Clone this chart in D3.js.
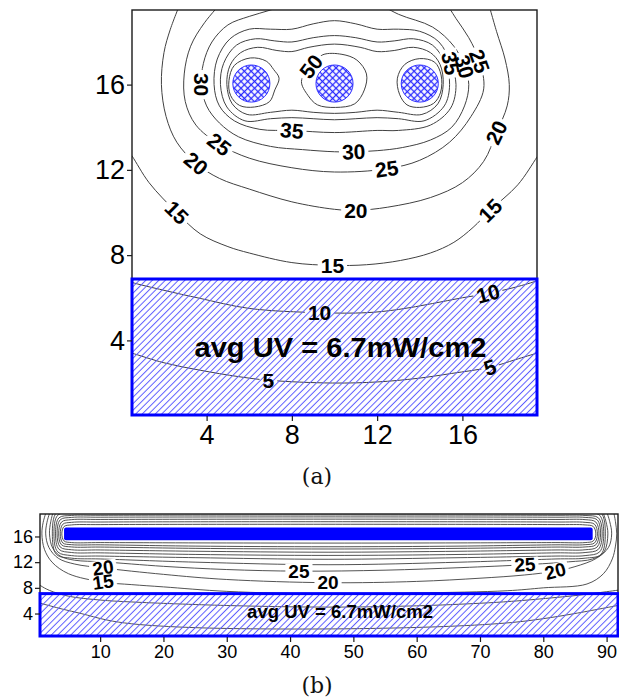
<!DOCTYPE html>
<html>
<head>
<meta charset="utf-8">
<script src="https://cdn.jsdelivr.net/npm/d3@7"></script>
<style>
  body { margin: 0; background: #fff; }
  svg { font-family: "Liberation Sans", Arial, sans-serif; }
</style>
</head>
<body>
<svg id="fig" width="619" height="698"></svg>
<script>
// ---------- panel (a): three round lamps, 19 x 19 box ----------
const aLamps = [[6.1, 16.05], [10, 16.05], [14, 16.05]];
const aLampRadius = 0.87;
const aTarget = [0.5, 0.5, 19.5, 6.88];          // x0, y0, x1, y1 of hatched zone
const aXTicks = [4, 8, 12, 16];
const aYTicks = [4, 8, 12, 16];

// contour lines, points in plot units
const a50Left = [[5.05,16.2],[5.3,16.9],[6.05,17.25],[6.8,17.1],[7.15,16.7],[7.4,16.3],[7.2,15.75],[6.95,15.2],[6.25,14.95],[5.55,15.02],[5.12,15.5]];
const a50Mid = [[8.45,16.15],[8.85,16.85],[9.45,17.4],[10.35,17.42],[11.05,17.15],[11.5,16.5],[11.4,15.75],[10.95,15.1],[10.05,14.93],[9.2,15.05],[8.75,15.5]];
const a50Right = [[12.95,16.3],[13.3,16.95],[14.0,17.22],[14.7,17.05],[15.0,16.45],[14.98,15.65],[14.65,15.12],[14.0,14.93],[13.4,15.05],[13.05,15.55]];
const a45 = [[4.95,16.0],[5.1,16.9],[5.6,17.5],[6.4,17.75],[7.3,17.6],[8.0,17.55],[8.8,17.75],[10.0,17.9],[11.2,17.75],[12.0,17.55],[12.8,17.6],[13.7,17.75],[14.5,17.5],[14.95,16.95],[15.1,16.0],[14.85,15.1],[14.1,14.6],[13.0,14.7],[12.0,14.8],[11.0,14.7],[10.0,14.65],[9.0,14.7],[8.0,14.8],[7.0,14.7],[5.9,14.6],[5.2,15.1]];
const a40 = [[4.65,16.0],[4.8,17.0],[5.4,17.85],[6.3,18.15],[7.2,18.05],[8.0,18.0],[9.0,18.2],[10.0,18.3],[11.0,18.2],[12.0,18.0],[12.8,18.05],[13.7,18.15],[14.6,17.85],[15.2,17.0],[15.4,16.0],[15.15,15.0],[14.2,14.3],[13.0,14.4],[12.0,14.45],[11.0,14.4],[10.0,14.35],[9.0,14.4],[8.0,14.45],[7.0,14.4],[5.8,14.3],[4.95,14.95]];
const a35 = [[4.35,16.0],[4.5,17.2],[5.1,18.15],[6.0,18.6],[7.0,18.6],[8.0,18.6],[9.0,18.85],[10.0,19.0],[11.0,18.85],[12.0,18.6],[13.0,18.6],[14.0,18.5],[14.9,18.0],[15.45,17.0],[15.7,16.0],[15.45,14.9],[14.5,14.1],[13.0,13.85],[12.0,13.85],[10.0,13.75],[8.0,13.85],[6.5,13.9],[5.3,14.3],[4.6,15.0]];
const a30 = [[8.1,19.9],[7.0,19.5],[6.0,19.2],[5.0,18.8],[4.25,18.0],[3.85,17.0],[3.76,16.0],[4.0,15.0],[4.6,14.2],[5.5,13.55],[7.0,13.1],[8.5,12.95],[10.0,12.85],[10.9,12.85],[12.0,12.9],[13.2,13.05],[14.5,13.4],[15.5,14.0],[16.1,15.0],[16.3,16.0],[16.1,16.85],[15.6,17.8],[14.6,18.7],[13.0,19.3],[11.9,19.9]];
const a25 = [[4.75,19.9],[3.9,18.9],[3.25,17.8],[2.95,16.5],[3.0,15.2],[3.5,14.1],[4.6,13.2],[6.0,12.55],[8.0,12.1],[10.0,11.9],[12.45,12.05],[14.0,12.45],[15.4,13.3],[16.4,14.5],[17.0,15.8],[16.8,17.1],[16.3,18.2],[15.7,19.1],[15.2,19.9]];
const a20 = [[2.8,19.9],[2.3,18.6],[2.0,17.5],[1.88,16.0],[2.1,14.5],[2.6,13.3],[3.5,12.3],[4.6,11.6],[6.0,11.1],[8.0,10.5],[10.0,10.15],[11.0,10.1],[12.5,10.25],[14.5,10.7],[16.0,11.4],[17.0,12.4],[17.6,13.75],[18.1,15.0],[18.2,16.0],[18.0,17.2],[17.6,18.5],[17.2,19.9]];
const a15 = [[0.3,12.9],[0.5,12.65],[1.3,11.4],[2.6,10.0],[3.7,9.0],[5.0,8.4],[6.0,8.1],[8.0,7.65],[9.9,7.52],[11.5,7.55],[13.1,7.75],[14.5,8.1],[15.6,8.6],[16.5,9.3],[17.3,10.1],[18.6,11.3],[19.5,12.6],[19.7,12.9]];
const a10 = [[0.3,6.8],[0.5,6.72],[2.0,6.35],[3.7,5.97],[6.0,5.5],[9.3,5.3],[11.5,5.3],[13.0,5.45],[14.6,5.73],[16.0,6.0],[17.2,6.2],[18.5,6.5],[19.5,6.8],[19.7,6.9]];
const a5 = [[0.3,3.45],[0.5,3.4],[2.0,2.95],[3.7,2.6],[5.5,2.3],[6.9,2.13],[9.9,2.0],[12.0,2.05],[13.9,2.22],[15.5,2.45],[17.3,2.74],[18.5,3.1],[19.5,3.4],[19.7,3.45]];

// contour labels: text, position (plot units), angle
const aLabels = [
  ["50", 8.9, 16.85, -52], ["35", 15.45, 17.0, 78], ["30", 16.1, 16.85, 75], ["25", 16.8, 17.1, 70],
  ["30", 3.76, 16.0, 90], ["35", 8.0, 13.85, 5], ["30", 10.9, 12.85, -3],
  ["25", 4.6, 13.2, 38], ["25", 12.45, 12.05, -8],
  ["20", 3.5, 12.3, 40], ["20", 11.0, 10.1, 0], ["20", 17.6, 13.75, -65],
  ["15", 2.6, 10.0, 45], ["15", 9.9, 7.52, 0], ["15", 17.3, 10.1, -45],
  ["10", 9.3, 5.3, 0], ["10", 17.2, 6.2, -15],
  ["5", 6.9, 2.13, 0], ["5", 17.3, 2.74, -18]
];

// ---------- panel (b): one long lamp, 92 x 19 box ----------
const bLamp = [4.3, 15.4, 87.8, 17.4];
const bTarget = [0.5, 0.5, 91.8, 7.1];
const bXTicks = [10, 20, 30, 40, 50, 60, 70, 80, 90];
const bYTicks = [4, 8, 12, 16];

const b60 = [[3.95,16.4],[4.3,15.3],[5.5,15.05],[10,15.05],[25,15.0],[46,14.97],[67,15.0],[82,15.05],[86.6,15.05],[87.9,15.3],[88.3,16.4],[87.9,17.55],[86.6,17.8],[82,17.85],[46,17.9],[10,17.85],[5.5,17.8],[4.3,17.55]];
const b55 = [[3.7,16.4],[4.1,15.0],[5.5,14.72],[10,14.7],[25,14.5],[46,14.4],[67,14.5],[82,14.7],[86.6,14.72],[88.1,15.0],[88.55,16.4],[88.1,17.9],[86.6,18.2],[82,18.25],[46,18.3],[10,18.25],[5.5,18.2],[4.1,17.9]];
const b50 = [[3.45,16.4],[3.9,14.7],[5.5,14.37],[10,14.35],[25,14.15],[46,14.05],[67,14.15],[82,14.35],[86.6,14.37],[88.3,14.7],[88.8,16.4],[88.3,18.25],[86.6,18.62],[82,18.65],[46,18.7],[10,18.65],[5.5,18.62],[3.9,18.25]];
const b45 = [[3.2,16.4],[3.7,14.35],[5.5,13.93],[10,13.9],[25,13.7],[46,13.55],[67,13.7],[82,13.9],[86.6,13.93],[88.5,14.35],[89.05,16.4],[88.5,18.6],[86.6,18.97],[82,19.0],[46,19.05],[10,19.0],[5.5,18.97],[3.7,18.6]];
const b40 = [[2.95,16.4],[3.5,14.0],[5.5,13.5],[10,13.45],[25,13.2],[46,13.05],[67,13.2],[82,13.45],[86.6,13.5],[88.7,14.0],[89.3,16.4],[88.7,18.9],[86.6,19.27],[82,19.3],[46,19.35],[10,19.3],[5.5,19.27],[3.5,18.9]];
const b35 = [[2.7,16.4],[3.3,13.6],[5.5,13.02],[10,12.95],[25,12.7],[46,12.45],[67,12.7],[82,12.95],[86.6,13.02],[88.9,13.6],[89.55,16.4],[88.9,19.3],[86.6,19.75],[82,19.8],[46,19.85],[10,19.8],[5.5,19.75],[3.3,19.3]];
const b30 = [[2.45,16.4],[3.1,13.2],[5.5,12.62],[10,12.5],[25,12.0],[46,11.6],[67,12.0],[82,12.5],[86.6,12.62],[89.1,13.2],[89.8,16.4],[89.1,19.7],[86.6,20.2],[82,20.25],[46,20.3],[10,20.25],[5.5,20.2],[3.1,19.7]];
const b25 = [[2.6,19.9],[2.2,18.3],[2.0,16.4],[2.5,14.2],[3.8,12.9],[6.0,12.3],[10.45,12.05],[20,11.35],[30,10.85],[41.4,10.6],[55,10.75],[67,11.15],[77.1,11.6],[84,12.05],[87.8,12.5],[89.6,13.6],[90.2,16.4],[89.9,18.3],[89.4,19.9]];
const b20 = [[2.1,19.9],[1.6,18.2],[1.4,16.4],[1.9,14.3],[3.4,12.6],[6.0,11.7],[10.45,11.1],[20,10.1],[30,9.3],[46,8.8],[60,9.0],[70,9.5],[77,10.0],[81.9,10.6],[85,11.3],[88.4,12.6],[90.3,14.3],[90.8,16.4],[90.5,18.3],[90.0,19.9]];
const b15 = [[1.5,19.9],[1.0,18.2],[0.8,16.4],[1.2,14.0],[2.4,12.0],[5.0,10.2],[10.45,8.9],[15,8.5],[20,8.15],[30,7.45],[46,7.05],[60,7.2],[74.3,7.55],[80,8.0],[86.9,8.6],[89.5,10.2],[90.9,12.5],[91.4,14.5],[91.6,16.4],[91.4,18.3],[91.1,19.9]];
const b10 = [[-1,9.5],[0.5,8.4],[2.0,7.6],[5,6.7],[10,6.1],[15,5.8],[30,5.25],[46,5.0],[60,5.2],[70,5.6],[75,5.9],[82,6.5],[86,6.9],[90,7.4],[93,7.8]];
const b5 = [[-1,5.9],[0.5,5.6],[4,4.7],[7,4.0],[11,3.0],[15,2.4],[25,1.8],[46,1.6],[65,2.0],[75,2.6],[80,3.2],[85,4.0],[92,5.3]];

const bLabels = [
  ["20", 10.45, 11.1, -8], ["15", 10.45, 8.9, -8],
  ["25", 41.4, 10.6, 0], ["20", 46.0, 8.8, 0],
  ["25", 77.1, 11.6, -3], ["20", 81.9, 10.6, -15]
];

const avgText = "avg UV = 6.7mW/cm2";

// ---------- drawing ----------
const svg = d3.select("#fig");
const defs = svg.append("defs");

function makeHatch(id, gap, color, width, cross) {
  const p = defs.append("pattern")
    .attr("id", id)
    .attr("patternUnits", "userSpaceOnUse")
    .attr("width", gap).attr("height", gap)
    .attr("patternTransform", "rotate(45)");
  p.append("line")
    .attr("x1", gap / 2).attr("y1", 0).attr("x2", gap / 2).attr("y2", gap)
    .attr("stroke", color).attr("stroke-width", width);
  if (cross) {
    p.append("line")
      .attr("x1", 0).attr("y1", gap / 2).attr("x2", gap).attr("y2", gap / 2)
      .attr("stroke", color).attr("stroke-width", width);
  }
}
makeHatch("hatch", 4.6, "#5c5cff", 1, false);
makeHatch("cross", 4.8, "#2a2aff", 1.3, true);

function drawPanel(p) {
  const x = d3.scaleLinear().domain(p.xDomain).range([p.left, p.right]);
  const y = d3.scaleLinear().domain(p.yDomain).range([p.bottom, p.top]);
  const w = p.right - p.left, h = p.bottom - p.top;
  const g = svg.append("g");

  defs.append("clipPath").attr("id", p.id + "clip")
    .append("rect").attr("x", p.left).attr("y", p.top).attr("width", w).attr("height", h);

  const open = d3.line().x(d => x(d[0])).y(d => y(d[1])).curve(d3.curveCatmullRom.alpha(0.5));
  const loop = d3.line().x(d => x(d[0])).y(d => y(d[1])).curve(d3.curveCatmullRomClosed.alpha(0.5));

  // mask cuts a gap in the lines under every label
  const mask = defs.append("mask").attr("id", p.id + "mask")
    .attr("maskUnits", "userSpaceOnUse")
    .attr("x", 0).attr("y", 0).attr("width", 619).attr("height", 698);
  mask.append("rect").attr("width", 619).attr("height", 698).attr("fill", "#fff");

  const lineG = g.append("g").attr("clip-path", `url(#${p.id}clip)`)
    .append("g").attr("mask", `url(#${p.id}mask)`);
  p.contours.forEach(c => {
    lineG.append("path")
      .attr("d", (c.closed ? loop : open)(c.pts))
      .attr("fill", "none")
      .attr("stroke", "#404040")
      .attr("stroke-width", p.lineWidth);
  });

  // frame
  g.append("rect")
    .attr("x", p.left).attr("y", p.top).attr("width", w).attr("height", h)
    .attr("fill", "none").attr("stroke", "#1a1a1a").attr("stroke-width", 1.4);

  // hatched target zone
  const t = p.target;
  g.append("rect")
    .attr("x", x(t[0])).attr("y", y(t[3]))
    .attr("width", x(t[2]) - x(t[0])).attr("height", y(t[1]) - y(t[3]))
    .attr("fill", "url(#hatch)")
    .attr("stroke", "#0000ff").attr("stroke-width", 3);

  // lamps
  if (p.lamps) {
    const lamp = g.selectAll(".lamp").data(p.lamps).join("g");
    lamp.append("circle")
      .attr("cx", d => x(d[0])).attr("cy", d => y(d[1]))
      .attr("r", x(p.lampRadius) - x(0))
      .attr("fill", "#fff");
    lamp.append("circle")
      .attr("cx", d => x(d[0])).attr("cy", d => y(d[1]))
      .attr("r", x(p.lampRadius) - x(0))
      .attr("fill", "url(#cross)")
      .attr("stroke", "#3030ff").attr("stroke-width", 1);
  }
  if (p.bar) {
    const b = p.bar;
    g.append("rect")
      .attr("x", x(b[0])).attr("y", y(b[3]))
      .attr("width", x(b[2]) - x(b[0])).attr("height", y(b[1]) - y(b[3]))
      .attr("rx", 2)
      .attr("fill", "#0000ff");
  }

  // contour labels
  p.labels.forEach(l => {
    const tr = `translate(${x(l[1])},${y(l[2])}) rotate(${l[3]})`;
    const txt = g.append("text")
      .attr("transform", tr)
      .attr("text-anchor", "middle")
      .attr("dominant-baseline", "central")
      .attr("font-size", p.labelSize)
      .attr("font-weight", "bold")
      .attr("fill", "#000")
      .text(l[0]);
    const tw = txt.node().getComputedTextLength() + 6;
    const th = p.labelSize * 0.8;
    mask.append("rect")
      .attr("transform", tr)
      .attr("x", -tw / 2).attr("y", -th / 2)
      .attr("width", tw).attr("height", th)
      .attr("fill", "#000");
  });

  // average text
  g.append("text")
    .attr("x", x(p.avgAt[0])).attr("y", y(p.avgAt[1]))
    .attr("text-anchor", "middle")
    .attr("font-size", p.avgSize)
    .attr("font-weight", "bold")
    .attr("textLength", p.avgWidth)
    .attr("lengthAdjust", "spacingAndGlyphs")
    .text(avgText);

  // axes
  const ax = g.append("g")
    .attr("transform", `translate(0,${p.bottom + 1})`)
    .call(d3.axisBottom(x).tickValues(p.xTicks).tickSize(p.tick).tickPadding(p.pad));
  const ay = g.append("g")
    .attr("transform", `translate(${p.left},0)`)
    .call(d3.axisLeft(y).tickValues(p.yTicks).tickSize(p.tick).tickPadding(2));
  [ax, ay].forEach(a => {
    a.select(".domain").remove();
    a.attr("font-size", p.tickSize).attr("font-family", "'Liberation Sans', Arial, sans-serif");
    a.selectAll("line").attr("stroke", "#1a1a1a").attr("stroke-width", 1.2);
    a.selectAll("text").attr("fill", "#000");
  });

  svg.append("text")
    .attr("x", p.captionAt[0]).attr("y", p.captionAt[1])
    .attr("text-anchor", "middle")
    .style("font-family", "'DejaVu Serif', 'Liberation Serif', serif")
    .attr("font-size", 22)
    .attr("fill", "#111")
    .text(p.caption);
}

drawPanel({
  id: "a",
  xDomain: [0.5, 19.5], yDomain: [0.5, 19.5],
  left: 132, right: 537, top: 10, bottom: 415,
  contours: [
    { pts: a50Left, closed: true }, { pts: a50Mid, closed: true }, { pts: a50Right, closed: true },
    { pts: a45, closed: true }, { pts: a40, closed: true }, { pts: a35, closed: true },
    { pts: a30 }, { pts: a25 }, { pts: a20 }, { pts: a15 }, { pts: a10 }, { pts: a5 }
  ],
  labels: aLabels,
  lamps: aLamps, lampRadius: aLampRadius,
  target: aTarget,
  xTicks: aXTicks, yTicks: aYTicks,
  lineWidth: 1, labelSize: 21, tickSize: 27, tick: 5, pad: 4,
  avgAt: [10.28, 3.22], avgSize: 28, avgWidth: 292,
  caption: "(a)", captionAt: [317, 484]
});

drawPanel({
  id: "b",
  xDomain: [0.5, 91.8], yDomain: [0.5, 19.5],
  left: 40, right: 618, top: 514, bottom: 636,
  contours: [
    { pts: b60, closed: true }, { pts: b55, closed: true }, { pts: b50, closed: true },
    { pts: b45, closed: true }, { pts: b40, closed: true }, { pts: b35, closed: true },
    { pts: b30, closed: true }, { pts: b25 }, { pts: b20 }, { pts: b15 }, { pts: b10 }, { pts: b5 }
  ],
  labels: bLabels,
  bar: bLamp,
  target: bTarget,
  xTicks: bXTicks, yTicks: bYTicks,
  lineWidth: 0.9, labelSize: 19, tickSize: 18, tick: 5, pad: 3,
  avgAt: [47.9, 3.3], avgSize: 19, avgWidth: 186,
  caption: "(b)", captionAt: [317, 693]
});
</script>
</body>
</html>
